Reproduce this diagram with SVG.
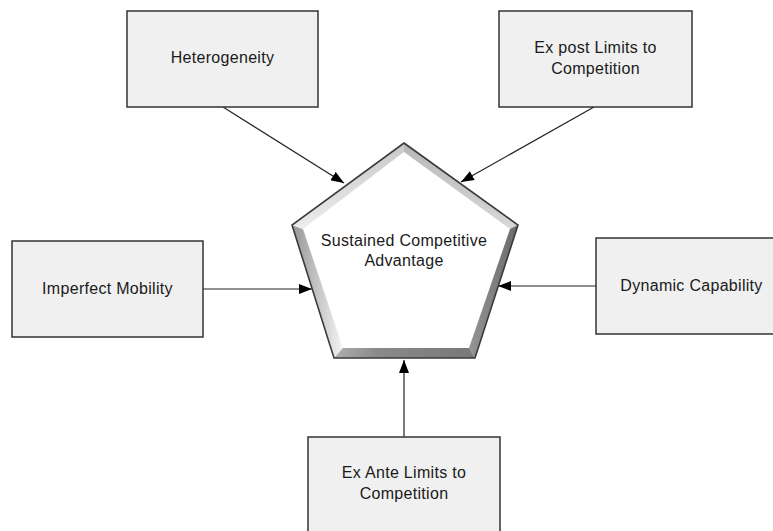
<svg xmlns="http://www.w3.org/2000/svg" width="773" height="531" viewBox="0 0 773 531">
<style>
.box{fill:#f0f0f0;stroke:#333;stroke-width:1.5}
.lbl{font-family:"Liberation Sans",Arial,sans-serif;font-size:16px;letter-spacing:0.3px;fill:#1a1a1a;text-anchor:middle}
.conn{stroke:#222;stroke-width:1.2;fill:none;marker-end:url(#ah)}
</style>
<defs>
<marker id="ah" markerUnits="userSpaceOnUse" markerWidth="14" markerHeight="10" refX="13" refY="5" orient="auto">
<path d="M0,0 L13,5 L0,10 z" fill="#000"/>
</marker>
<linearGradient id="gL" x1="0" y1="0" x2="1" y2="0"><stop offset="0" stop-color="#959595"/><stop offset="1" stop-color="#f5f5f5"/></linearGradient>
<linearGradient id="gTL" x1="0" y1="0" x2="0.4" y2="1"><stop offset="0" stop-color="#b0b0b0"/><stop offset="1" stop-color="#f5f5f5"/></linearGradient>
<linearGradient id="gTR" x1="1" y1="0" x2="0.6" y2="1"><stop offset="0" stop-color="#a0a0a0"/><stop offset="1" stop-color="#e0e0e0"/></linearGradient>
<linearGradient id="gR" x1="1" y1="0" x2="0" y2="0"><stop offset="0" stop-color="#6a6a6a"/><stop offset="1" stop-color="#959595"/></linearGradient>
<linearGradient id="gB" x1="0" y1="0" x2="1" y2="0"><stop offset="0" stop-color="#b0b0b0"/><stop offset="0.3" stop-color="#8a8a8a"/><stop offset="1" stop-color="#787878"/></linearGradient>
</defs>
<g id="connectors">
<line class="conn" x1="223" y1="107" x2="344" y2="183"/>
<line class="conn" x1="594" y1="107" x2="461" y2="182"/>
<line class="conn" x1="203" y1="289" x2="312" y2="289"/>
<line class="conn" x1="596" y1="286" x2="498" y2="286"/>
<line class="conn" x1="404" y1="437" x2="404" y2="360"/>
</g>
<g id="sca">
<polygon points="404,152 510,229 469,348 343,348 303,229" fill="#fff"/>
<polygon points="292,225 334,358 343,348 303,229" fill="url(#gL)"/>
<polygon points="404,143 292,225 303,229 404,152" fill="url(#gTL)"/>
<polygon points="404,143 518,225 510,229 404,152" fill="url(#gTR)"/>
<polygon points="518,225 475,358 469,348 510,229" fill="url(#gR)"/>
<polygon points="334,358 475,358 469,348 343,348" fill="url(#gB)"/>
<polygon points="404,143 518,225 475,358 334,358 292,225" fill="none" stroke="#3a3a3a" stroke-width="1.6" stroke-linejoin="miter"/>
<text class="lbl" x="404" y="246">Sustained Competitive</text>
<text class="lbl" x="404" y="266">Advantage</text>
</g>
<g id="heterogeneity">
<rect class="box" x="127" y="11" width="191" height="96"/>
<text class="lbl" x="222.5" y="63">Heterogeneity</text>
</g>
<g id="expost">
<rect class="box" x="499" y="11" width="193" height="96"/>
<text class="lbl" x="595.5" y="53">Ex post Limits to</text>
<text class="lbl" x="595.5" y="74">Competition</text>
</g>
<g id="imperfect">
<rect class="box" x="12" y="241" width="191" height="96"/>
<text class="lbl" x="107.5" y="294">Imperfect Mobility</text>
</g>
<g id="dynamic">
<rect class="box" x="596" y="238" width="191" height="96"/>
<text class="lbl" x="691.5" y="291">Dynamic Capability</text>
</g>
<g id="exante">
<rect class="box" x="308" y="437" width="192" height="110"/>
<text class="lbl" x="404" y="478">Ex Ante Limits to</text>
<text class="lbl" x="404" y="499">Competition</text>
</g>
</svg>
